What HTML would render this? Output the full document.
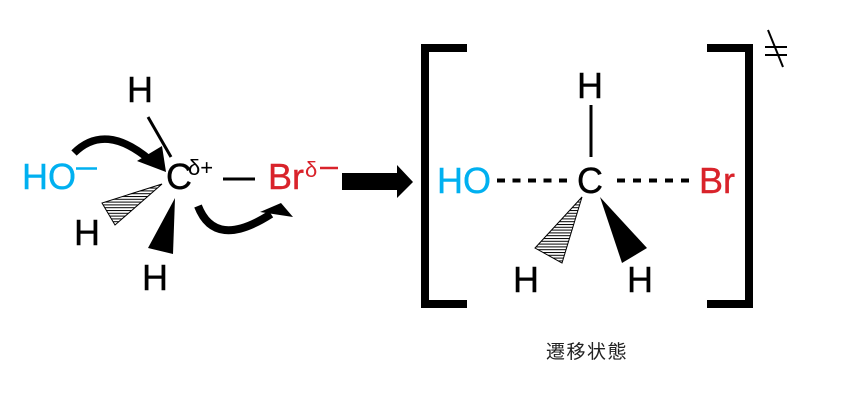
<!DOCTYPE html>
<html>
<head>
<meta charset="utf-8">
<style>
  html,body{margin:0;padding:0;background:#fff;}
  svg{display:block;}
  .t{font-family:"Liberation Sans","Noto Sans CJK JP",sans-serif;font-size:36px;stroke-width:0.4px;}
  .s{font-family:"Liberation Sans","Noto Sans CJK JP",sans-serif;font-size:22px;}
  .cap{font-family:"Liberation Sans","Noto Sans CJK JP",sans-serif;font-size:19px;letter-spacing:1.5px;}
</style>
</head>
<body>
<svg width="850" height="408" viewBox="0 0 850 408" xmlns="http://www.w3.org/2000/svg">
  <defs>
    <pattern id="hatch" patternUnits="userSpaceOnUse" width="6" height="2.8">
      <rect width="6" height="2.8" fill="#fff"/>
      <line x1="0" y1="0.5" x2="6" y2="0.5" stroke="#000" stroke-width="1"/>
    </pattern>
  </defs>

  <!-- ========== LEFT: reactants ========== -->
  <text class="t" x="127" y="102" fill="#000" stroke="#000">H</text>
  <line x1="148" y1="117" x2="171" y2="157" stroke="#000" stroke-width="3"/>

  <text class="t" x="22" y="189" fill="#00B0F0" stroke="#00B0F0">HO</text>
  <line x1="76" y1="168.5" x2="97" y2="168.5" stroke="#00B0F0" stroke-width="2.5"/>

  <!-- curved arrow 1 -->
  <path d="M74 153 Q105 122 150 160" fill="none" stroke="#000" stroke-width="7.5"/>
  <polygon points="137,161 162,146 166,172" fill="#000"/>

  <text class="t" x="166" y="189" fill="#000" stroke="#000">C</text>
  <text class="s" x="188" y="175" fill="#000">δ+</text>

  <line x1="223" y1="179" x2="255" y2="179" stroke="#000" stroke-width="3"/>

  <text class="t" x="268" y="189" fill="#D9232B" stroke="#D9232B">Br</text>
  <text class="s" x="305" y="177" fill="#D9232B">δ</text>
  <line x1="320" y1="168" x2="338" y2="168" stroke="#D9232B" stroke-width="2.5"/>

  <!-- hashed wedge left -->
  <polygon points="162,184 102,203 115,225" fill="url(#hatch)" stroke="#000" stroke-width="1"/>
  <text class="t" x="74" y="245" fill="#000" stroke="#000">H</text>

  <!-- solid wedge left -->
  <polygon points="175,198 148,248 173,254" fill="#000"/>
  <text class="t" x="142" y="290" fill="#000" stroke="#000">H</text>

  <!-- curved arrow 2 -->
  <path d="M198 206 Q215 250 271 214" fill="none" stroke="#000" stroke-width="8"/>
  <polygon points="260,212 281,203 293,217" fill="#000"/>

  <!-- big arrow -->
  <polygon points="342,173 397,173 397,165 413,182 397,198 397,190 342,190" fill="#000"/>

  <!-- ========== RIGHT: transition state ========== -->
  <rect x="421" y="44" width="8" height="264" fill="#000"/>
  <rect x="421" y="44" width="46" height="8" fill="#000"/>
  <rect x="421" y="300" width="46" height="8" fill="#000"/>
  <rect x="745" y="44" width="8" height="264" fill="#000"/>
  <rect x="707" y="44" width="46" height="8" fill="#000"/>
  <rect x="707" y="300" width="46" height="8" fill="#000"/>

  <line x1="765" y1="47" x2="787" y2="47" stroke="#000" stroke-width="2"/>
  <line x1="765" y1="55" x2="787" y2="55" stroke="#000" stroke-width="2"/>
  <line x1="768" y1="30" x2="783" y2="67" stroke="#000" stroke-width="2"/>

  <text class="t" x="577" y="98" fill="#000" stroke="#000">H</text>
  <line x1="591" y1="105" x2="591" y2="157" stroke="#000" stroke-width="3"/>

  <text class="t" x="437" y="193" fill="#00B0F0" stroke="#00B0F0">HO</text>
  <line x1="497" y1="180.5" x2="567" y2="180.5" stroke="#000" stroke-width="4" stroke-dasharray="8 7.5"/>

  <text class="t" x="577" y="193" fill="#000" stroke="#000">C</text>

  <line x1="617" y1="180.5" x2="690" y2="180.5" stroke="#000" stroke-width="4" stroke-dasharray="8 8"/>
  <text class="t" x="699" y="193" fill="#D9232B" stroke="#D9232B">Br</text>

  <polygon points="582,197 535,248 562,263" fill="url(#hatch)" stroke="#000" stroke-width="1"/>
  <polygon points="600,197 622,263 647,248" fill="#000"/>

  <text class="t" x="513" y="292" fill="#000" stroke="#000">H</text>
  <text class="t" x="627" y="292" fill="#000" stroke="#000">H</text>

  <text class="cap" x="546" y="358" fill="#222">遷移状態</text>
</svg>
</body>
</html>
